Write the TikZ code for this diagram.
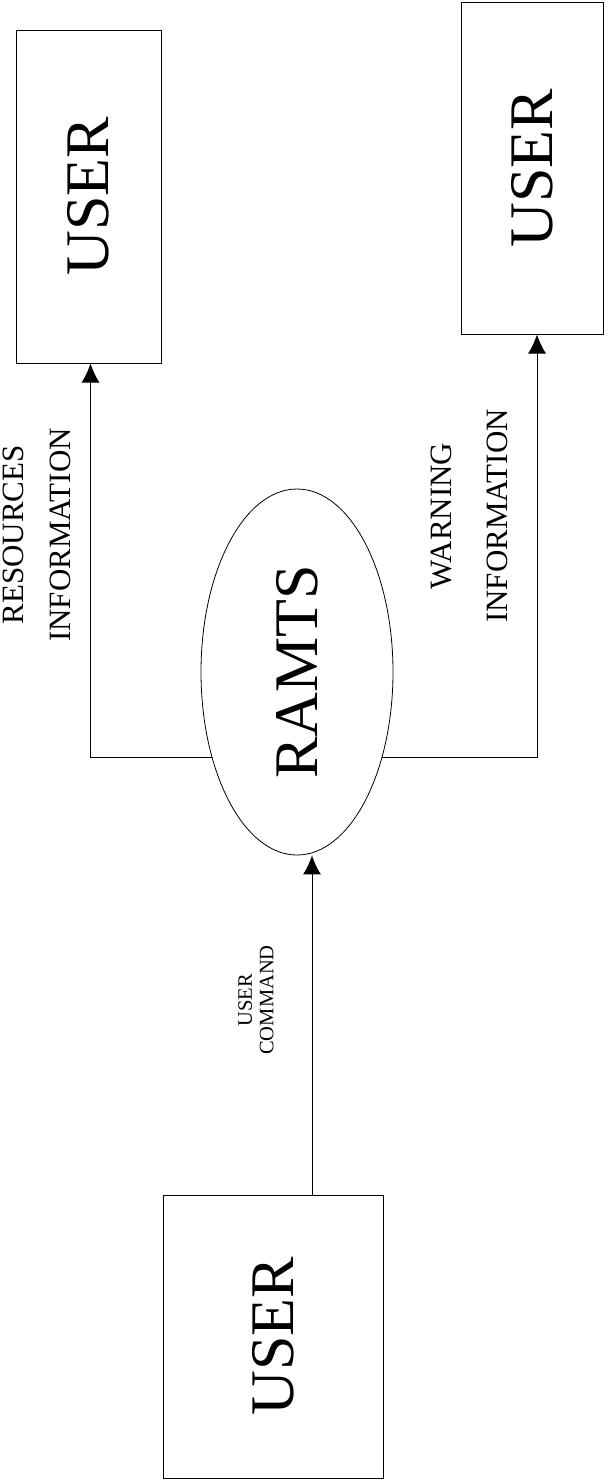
\documentclass[tikz,border=0pt]{standalone}
\usepackage{fontspec}
\usepackage{graphicx}
\setmainfont{Liberation Serif}
\usetikzlibrary{shapes.geometric,arrows.meta}
\begin{document}
\begin{tikzpicture}[x=1pt,y=1pt,
  userbox/.style={draw, line width=1pt, inner sep=0pt, font=\fontsize{62}{62}\selectfont},
  proc/.style={draw, ellipse, line width=0.8pt, inner sep=0pt, font=\fontsize{62}{62}\selectfont},
  biglab/.style={rotate=90, align=center, inner sep=0pt, font=\fontsize{31}{56}\selectfont},
  tightlab/.style={rotate=90, align=center, inner sep=0pt, font=\fontsize{31}{47}\selectfont},
  smalllab/.style={rotate=90, align=center, inner sep=0pt, font=\fontsize{20.5}{21.5}\selectfont},
  flow/.style={line width=1pt, -{Latex[length=19pt,width=18pt]}}]
\useasboundingbox (0,0) rectangle (609,-1484);
% entities
\node[userbox, minimum width=145pt, minimum height=333pt] (tl) at (88.5,-196.5) {\rotatebox{90}{USER}};
\node[userbox, minimum width=142pt, minimum height=332pt] (tr) at (532,-168) {\rotatebox{90}{USER}};
\node[userbox, minimum width=220pt, minimum height=283pt] (bl) at (273,-1336.5) {\rotatebox{90}{USER}};
% process
\node[proc, minimum width=192pt, minimum height=366pt] (ram) at (297,-672) {\rotatebox{90}{RAMTS}};
% connectors
\coordinate (cin) at ([xshift=15pt]ram.south);
\draw[flow] (bl.north -| cin) -- (cin);
\draw[flow] (ram.225) -| ([xshift=2pt]tl.south);
\draw[flow] (ram.-45) -| ([xshift=5pt]tr.south);
% labels
\node[tightlab] (l1) at (37,-535) {RESOURCES\\INFORMATION};
\node[biglab] (l2) at (469,-516) {WARNING\\INFORMATION};
\node[smalllab] (l3) at (256,-1000) {USER\\COMMAND};
\end{tikzpicture}
\end{document}
